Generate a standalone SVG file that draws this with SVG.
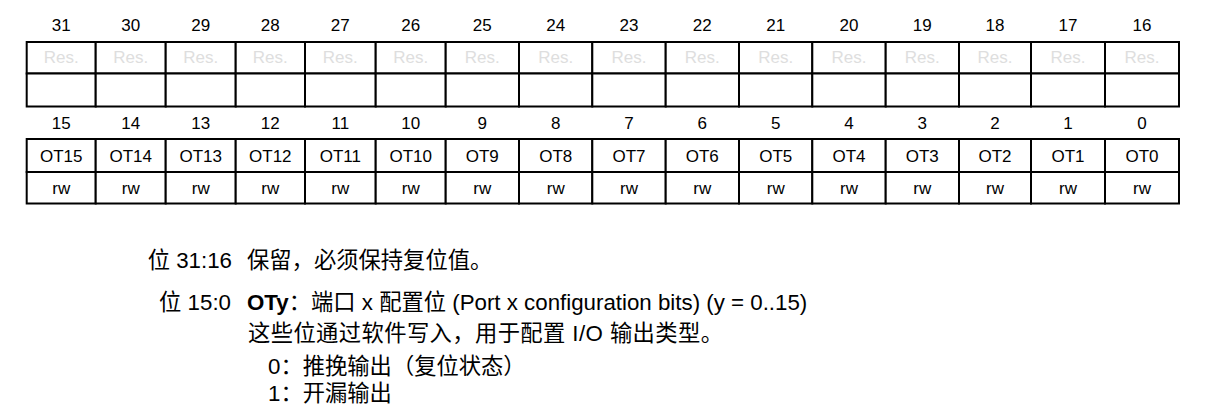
<svg xmlns="http://www.w3.org/2000/svg" width="1212" height="410" viewBox="0 0 1212 410">
<style>
  .bg { fill: #ffffff; }
  .cell { fill: #ffffff; stroke: #000000; stroke-width: 2; }
  .num { font-family: "Liberation Sans", Arial, sans-serif; font-size: 17px; fill: #000000; text-anchor: middle; }
  .res { font-family: "Liberation Sans", Arial, sans-serif; font-size: 17px; fill: #dedede; text-anchor: middle; }
  .lbl { font-family: "Liberation Sans", Arial, sans-serif; font-size: 17px; fill: #000000; text-anchor: middle; }
  .desc { font-family: "Liberation Sans", Arial, "Noto Sans CJK SC", sans-serif; font-size: 22.3px; fill: #000000; }
  .bold { font-weight: bold; }
</style>
<rect class="bg" x="0" y="0" width="1212" height="410"/>

<!-- upper register row: bits 31..16 -->
<g id="upper">
  <g id="b31"><text class="num" x="61.2" y="31">31</text><rect class="cell" x="26.7" y="42" width="69" height="31.5"/><rect class="cell" x="26.7" y="73.5" width="69" height="33"/><text class="res" x="61.2" y="63">Res.</text></g>
  <g id="b30"><text class="num" x="130.7" y="31">30</text><rect class="cell" x="95.7" y="42" width="70" height="31.5"/><rect class="cell" x="95.7" y="73.5" width="70" height="33"/><text class="res" x="130.7" y="63">Res.</text></g>
  <g id="b29"><text class="num" x="200.7" y="31">29</text><rect class="cell" x="165.7" y="42" width="70" height="31.5"/><rect class="cell" x="165.7" y="73.5" width="70" height="33"/><text class="res" x="200.7" y="63">Res.</text></g>
  <g id="b28"><text class="num" x="270.3" y="31">28</text><rect class="cell" x="235.7" y="42" width="69.3" height="31.5"/><rect class="cell" x="235.7" y="73.5" width="69.3" height="33"/><text class="res" x="270.3" y="63">Res.</text></g>
  <g id="b27"><text class="num" x="340.3" y="31">27</text><rect class="cell" x="305" y="42" width="70.7" height="31.5"/><rect class="cell" x="305" y="73.5" width="70.7" height="33"/><text class="res" x="340.3" y="63">Res.</text></g>
  <g id="b26"><text class="num" x="410.7" y="31">26</text><rect class="cell" x="375.7" y="42" width="70" height="31.5"/><rect class="cell" x="375.7" y="73.5" width="70" height="33"/><text class="res" x="410.7" y="63">Res.</text></g>
  <g id="b25"><text class="num" x="482.3" y="31">25</text><rect class="cell" x="445.7" y="42" width="73.3" height="31.5"/><rect class="cell" x="445.7" y="73.5" width="73.3" height="33"/><text class="res" x="482.3" y="63">Res.</text></g>
  <g id="b24"><text class="num" x="555.7" y="31">24</text><rect class="cell" x="519" y="42" width="73.3" height="31.5"/><rect class="cell" x="519" y="73.5" width="73.3" height="33"/><text class="res" x="555.7" y="63">Res.</text></g>
  <g id="b23"><text class="num" x="629" y="31">23</text><rect class="cell" x="592.3" y="42" width="73.4" height="31.5"/><rect class="cell" x="592.3" y="73.5" width="73.4" height="33"/><text class="res" x="629" y="63">Res.</text></g>
  <g id="b22"><text class="num" x="702.3" y="31">22</text><rect class="cell" x="665.7" y="42" width="73.3" height="31.5"/><rect class="cell" x="665.7" y="73.5" width="73.3" height="33"/><text class="res" x="702.3" y="63">Res.</text></g>
  <g id="b21"><text class="num" x="775.7" y="31">21</text><rect class="cell" x="739" y="42" width="73.3" height="31.5"/><rect class="cell" x="739" y="73.5" width="73.3" height="33"/><text class="res" x="775.7" y="63">Res.</text></g>
  <g id="b20"><text class="num" x="849" y="31">20</text><rect class="cell" x="812.3" y="42" width="73.4" height="31.5"/><rect class="cell" x="812.3" y="73.5" width="73.4" height="33"/><text class="res" x="849" y="63">Res.</text></g>
  <g id="b19"><text class="num" x="922.3" y="31">19</text><rect class="cell" x="885.7" y="42" width="73.3" height="31.5"/><rect class="cell" x="885.7" y="73.5" width="73.3" height="33"/><text class="res" x="922.3" y="63">Res.</text></g>
  <g id="b18"><text class="num" x="995" y="31">18</text><rect class="cell" x="959" y="42" width="72" height="31.5"/><rect class="cell" x="959" y="73.5" width="72" height="33"/><text class="res" x="995" y="63">Res.</text></g>
  <g id="b17"><text class="num" x="1068" y="31">17</text><rect class="cell" x="1031" y="42" width="74" height="31.5"/><rect class="cell" x="1031" y="73.5" width="74" height="33"/><text class="res" x="1068" y="63">Res.</text></g>
  <g id="b16"><text class="num" x="1142" y="31">16</text><rect class="cell" x="1105" y="42" width="74" height="31.5"/><rect class="cell" x="1105" y="73.5" width="74" height="33"/><text class="res" x="1142" y="63">Res.</text></g>
</g>

<!-- lower register row: bits 15..0 -->
<g id="lower">
  <g id="b15"><text class="num" x="61.2" y="129">15</text><rect class="cell" x="26.7" y="139" width="69" height="33"/><rect class="cell" x="26.7" y="172" width="69" height="31.5"/><text class="lbl" x="61.2" y="162">OT15</text><text class="lbl" x="61.2" y="194">rw</text></g>
  <g id="b14"><text class="num" x="130.7" y="129">14</text><rect class="cell" x="95.7" y="139" width="70" height="33"/><rect class="cell" x="95.7" y="172" width="70" height="31.5"/><text class="lbl" x="130.7" y="162">OT14</text><text class="lbl" x="130.7" y="194">rw</text></g>
  <g id="b13"><text class="num" x="200.7" y="129">13</text><rect class="cell" x="165.7" y="139" width="70" height="33"/><rect class="cell" x="165.7" y="172" width="70" height="31.5"/><text class="lbl" x="200.7" y="162">OT13</text><text class="lbl" x="200.7" y="194">rw</text></g>
  <g id="b12"><text class="num" x="270.3" y="129">12</text><rect class="cell" x="235.7" y="139" width="69.3" height="33"/><rect class="cell" x="235.7" y="172" width="69.3" height="31.5"/><text class="lbl" x="270.3" y="162">OT12</text><text class="lbl" x="270.3" y="194">rw</text></g>
  <g id="b11"><text class="num" x="340.3" y="129">11</text><rect class="cell" x="305" y="139" width="70.7" height="33"/><rect class="cell" x="305" y="172" width="70.7" height="31.5"/><text class="lbl" x="340.3" y="162">OT11</text><text class="lbl" x="340.3" y="194">rw</text></g>
  <g id="b10"><text class="num" x="410.7" y="129">10</text><rect class="cell" x="375.7" y="139" width="70" height="33"/><rect class="cell" x="375.7" y="172" width="70" height="31.5"/><text class="lbl" x="410.7" y="162">OT10</text><text class="lbl" x="410.7" y="194">rw</text></g>
  <g id="b9"><text class="num" x="482.3" y="129">9</text><rect class="cell" x="445.7" y="139" width="73.3" height="33"/><rect class="cell" x="445.7" y="172" width="73.3" height="31.5"/><text class="lbl" x="482.3" y="162">OT9</text><text class="lbl" x="482.3" y="194">rw</text></g>
  <g id="b8"><text class="num" x="555.7" y="129">8</text><rect class="cell" x="519" y="139" width="73.3" height="33"/><rect class="cell" x="519" y="172" width="73.3" height="31.5"/><text class="lbl" x="555.7" y="162">OT8</text><text class="lbl" x="555.7" y="194">rw</text></g>
  <g id="b7"><text class="num" x="629" y="129">7</text><rect class="cell" x="592.3" y="139" width="73.4" height="33"/><rect class="cell" x="592.3" y="172" width="73.4" height="31.5"/><text class="lbl" x="629" y="162">OT7</text><text class="lbl" x="629" y="194">rw</text></g>
  <g id="b6"><text class="num" x="702.3" y="129">6</text><rect class="cell" x="665.7" y="139" width="73.3" height="33"/><rect class="cell" x="665.7" y="172" width="73.3" height="31.5"/><text class="lbl" x="702.3" y="162">OT6</text><text class="lbl" x="702.3" y="194">rw</text></g>
  <g id="b5"><text class="num" x="775.7" y="129">5</text><rect class="cell" x="739" y="139" width="73.3" height="33"/><rect class="cell" x="739" y="172" width="73.3" height="31.5"/><text class="lbl" x="775.7" y="162">OT5</text><text class="lbl" x="775.7" y="194">rw</text></g>
  <g id="b4"><text class="num" x="849" y="129">4</text><rect class="cell" x="812.3" y="139" width="73.4" height="33"/><rect class="cell" x="812.3" y="172" width="73.4" height="31.5"/><text class="lbl" x="849" y="162">OT4</text><text class="lbl" x="849" y="194">rw</text></g>
  <g id="b3"><text class="num" x="922.3" y="129">3</text><rect class="cell" x="885.7" y="139" width="73.3" height="33"/><rect class="cell" x="885.7" y="172" width="73.3" height="31.5"/><text class="lbl" x="922.3" y="162">OT3</text><text class="lbl" x="922.3" y="194">rw</text></g>
  <g id="b2"><text class="num" x="995" y="129">2</text><rect class="cell" x="959" y="139" width="72" height="33"/><rect class="cell" x="959" y="172" width="72" height="31.5"/><text class="lbl" x="995" y="162">OT2</text><text class="lbl" x="995" y="194">rw</text></g>
  <g id="b1"><text class="num" x="1068" y="129">1</text><rect class="cell" x="1031" y="139" width="74" height="33"/><rect class="cell" x="1031" y="172" width="74" height="31.5"/><text class="lbl" x="1068" y="162">OT1</text><text class="lbl" x="1068" y="194">rw</text></g>
  <g id="b0"><text class="num" x="1142" y="129">0</text><rect class="cell" x="1105" y="139" width="74" height="33"/><rect class="cell" x="1105" y="172" width="74" height="31.5"/><text class="lbl" x="1142" y="162">OT0</text><text class="lbl" x="1142" y="194">rw</text></g>
</g>

<g id="connectors"></g>

<!-- description -->
<g id="description">
  <text class="desc" x="232" y="268" text-anchor="end">位 31:16</text>
  <text class="desc" x="247" y="268">保留，必须保持复位值。</text>
  <text class="desc" x="231" y="310" text-anchor="end">位 15:0</text>
  <text class="desc" x="247" y="310"><tspan class="bold">OTy</tspan>：端口 x 配置位 (Port x configuration bits) (y = 0..15)</text>
  <text class="desc" x="248" y="341" letter-spacing="0.4">这些位通过软件写入，用于配置 I/O 输出类型。</text>
  <text class="desc" x="268" y="374">0：推挽输出（复位状态）</text>
  <text class="desc" x="268" y="401">1：开漏输出</text>
</g>
</svg>
